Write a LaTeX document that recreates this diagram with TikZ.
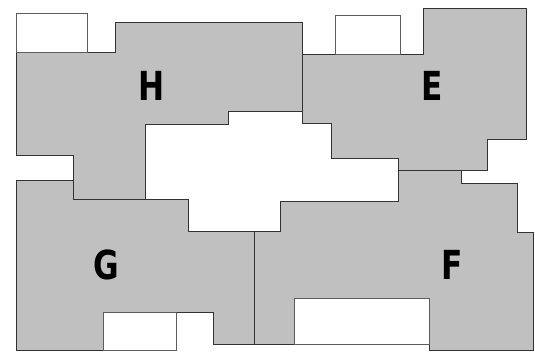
\documentclass[tikz,border=0pt]{standalone}
\usepackage{fontspec}
\newfontfamily\wingfont[FakeStretch=0.78]{DejaVu Sans}
\usepackage{xcolor}
\definecolor{roomgray}{HTML}{C0C0C0}
\definecolor{wallgray}{HTML}{333333}

\begin{document}
\begin{tikzpicture}[
    x=1pt, y=-1pt,
    room/.style={draw=wallgray, line width=1pt, fill=roomgray},
    void/.style={draw=wallgray!80, line width=1pt, fill=white},
    wing/.style={font=\wingfont\bfseries\fontsize{40}{40}\selectfont, text=black, inner sep=0pt},
]
\useasboundingbox (0,0) rectangle (535,351);

% Wing H - upper left
\draw[room] (16,52) -- (115,52) -- (115,22) -- (302,22) -- (302,111) -- (228,111)
    -- (228,124) -- (145,124) -- (145,199) -- (73,199) -- (73,155) -- (16,155) -- cycle;

% Wing E - upper right
\draw[room] (302,54) -- (423,54) -- (423,8) -- (526,8) -- (526,139) -- (487,139)
    -- (487,170) -- (398,170) -- (398,158) -- (331,158) -- (331,123) -- (302,123) -- cycle;

% Wing G - lower left
\draw[room] (16,180) -- (73,180) -- (73,199) -- (188,199) -- (188,231) -- (254,231)
    -- (254,344) -- (213,344) -- (213,312) -- (103,312) -- (103,350) -- (16,350) -- cycle;

% Wing F - lower right
\draw[room] (398,170) -- (461,170) -- (461,183) -- (517,183) -- (517,232) -- (533,232)
    -- (533,350) -- (429,350) -- (429,298) -- (294,298) -- (294,344) -- (254,344)
    -- (254,231) -- (280,231) -- (280,201) -- (398,201) -- cycle;

% Open courts
\draw[void] (16,13) rectangle (87,52);
\draw[void] (335,15) rectangle (400,54);
\draw[void] (103,312) rectangle (176,350);
\draw[void] (294,298) rectangle (429,344);

% Wing labels
\node[wing] (wingH) at (152,86) {H};
\node[wing] (wingE) at (432,86) {E};
\node[wing] (wingG) at (106,265) {G};
\node[wing] (wingF) at (452,265) {F};

\end{tikzpicture}
\end{document}
